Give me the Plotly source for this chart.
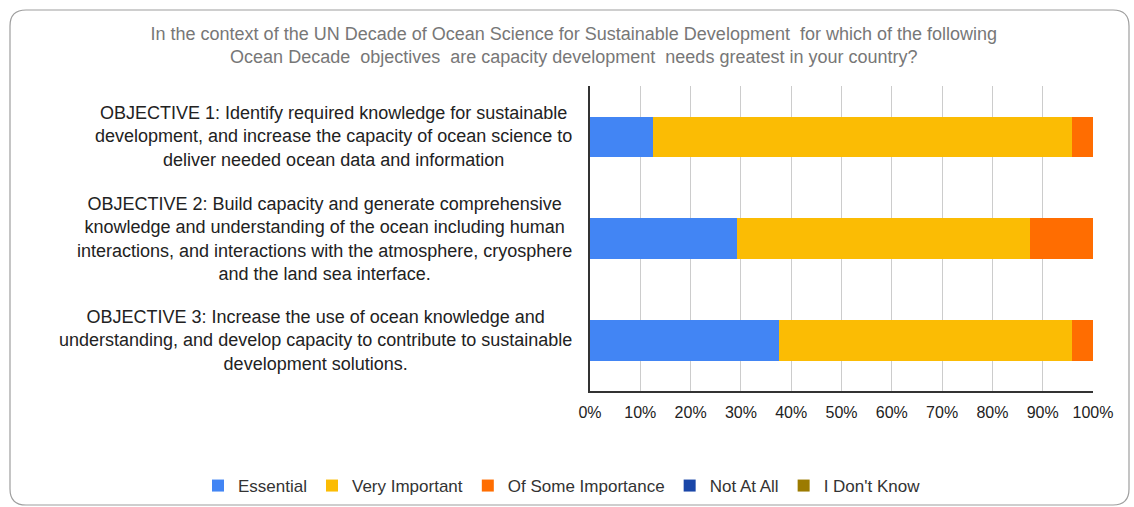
import plotly.graph_objects as go

# Survey responses per objective, as share of respondents (%)
objectives = ["OBJECTIVE 1", "OBJECTIVE 2", "OBJECTIVE 3"]
objective_labels = [
    "OBJECTIVE 1: Identify required knowledge for sustainable<br>"
    "development, and increase the capacity of ocean science to<br>"
    "deliver needed ocean data and information",
    "OBJECTIVE 2: Build capacity and generate comprehensive<br>"
    "knowledge and understanding of the ocean including human<br>"
    "interactions, and interactions with the atmosphere, cryosphere<br>"
    "and the land sea interface.",
    "OBJECTIVE 3: Increase the use of ocean knowledge and<br>"
    "understanding, and develop capacity to contribute to sustainable<br>"
    "development solutions.",
]
essential = [12.5, 29.2, 37.5]
very_important = [83.3, 58.3, 58.3]
some_importance = [4.2, 12.5, 4.2]
not_at_all = [0, 0, 0]
dont_know = [0, 0, 0]

series_names = ["Essential", "Very Important", "Of Some Importance", "Not At All", "I Don't Know"]
series_values = [essential, very_important, some_importance, not_at_all, dont_know]
series_colors = ["#4285F4", "#FBBC04", "#FF6D01", "#1A46A8", "#9C7B00"]

title_text = ("In the context of the UN Decade of Ocean Science for Sustainable Development  for which of the following<br>"
              "Ocean Decade  objectives  are capacity development  needs greatest in your country?")

W, H = 1134, 507
L, R, T, B = 590, 41, 86, 116
FONT = "Liberation Sans, Arial, sans-serif"

fig = go.Figure()
for name, vals, col in zip(series_names, series_values, series_colors):
    fig.add_trace(go.Bar(
        y=objectives, x=vals, name=name, orientation="h",
        marker=dict(color=col, line=dict(width=0)),
        hovertemplate="%{y}: %{x}%<extra>" + name + "</extra>",
    ))

# Category labels: centred multi-line text right-aligned against the axis
for cat, lab in zip(objectives, objective_labels):
    fig.add_annotation(
        x=0, xref="paper", y=cat, yref="y", text=lab, showarrow=False,
        xanchor="right", yanchor="middle", align="center", xshift=-16,
        font=dict(family=FONT, size=18, color="#222222"),
    )

# Rounded frame around the whole chart, converted from pixel to paper units
pw, ph = W - L - R, H - T - B
def px(x):
    return (x - L) / pw
def py(y):
    return 1 - (y - T) / ph
x0, x1, y0, y1, rad = 10, 1129, 10, 505, 16
path = (f"M {px(x0 + rad)} {py(y0)} L {px(x1 - rad)} {py(y0)} "
        f"Q {px(x1)} {py(y0)} {px(x1)} {py(y0 + rad)} L {px(x1)} {py(y1 - rad)} "
        f"Q {px(x1)} {py(y1)} {px(x1 - rad)} {py(y1)} L {px(x0 + rad)} {py(y1)} "
        f"Q {px(x0)} {py(y1)} {px(x0)} {py(y1 - rad)} L {px(x0)} {py(y0 + rad)} "
        f"Q {px(x0)} {py(y0)} {px(x0 + rad)} {py(y0)} Z")
fig.add_shape(type="path", path=path, xref="paper", yref="paper",
              line=dict(color="#9e9e9e", width=1.2), fillcolor="rgba(0,0,0,0)", layer="below")

fig.update_layout(
    width=W, height=H,
    margin=dict(l=L, r=R, t=T, b=B, autoexpand=False),
    paper_bgcolor="white", plot_bgcolor="white",
    barmode="stack", bargap=0.6,
    title=dict(text=title_text, x=0.506, xanchor="center", y=1 - 40 / H, yanchor="middle",
               yref="container", font=dict(family=FONT, size=18, color="#777777")),
    xaxis=dict(range=[0, 100], dtick=10, ticksuffix="%", showgrid=True, gridcolor="#cccccc",
               gridwidth=1, zeroline=False, showline=True, linecolor="#333333", linewidth=1.5,
               ticks="", ticklabelstandoff=6,
               tickfont=dict(family=FONT, size=16, color="#222222"), fixedrange=True),
    yaxis=dict(categoryorder="array", categoryarray=objectives, autorange="reversed",
               showticklabels=False, showgrid=False, zeroline=False, showline=True,
               linecolor="#333333", linewidth=1.5, ticks="", fixedrange=True),
    legend=dict(orientation="h", x=px(198), xanchor="left", y=py(486), yanchor="middle",
                font=dict(family=FONT, size=17, color="#333333"), traceorder="normal",
                bgcolor="rgba(0,0,0,0)", itemwidth=30, itemclick=False, itemdoubleclick=False),
    showlegend=True,
)

fig.write_html("out.html")
